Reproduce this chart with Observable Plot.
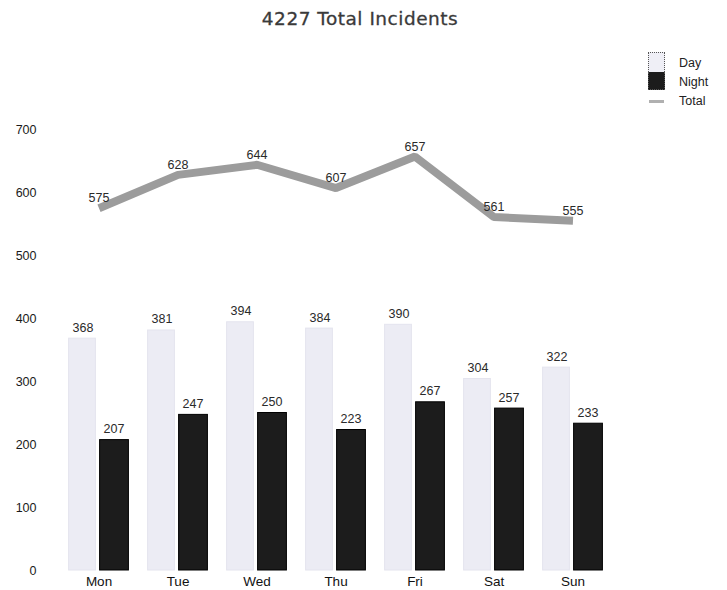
<!DOCTYPE html>
<html>
<head>
<meta charset="utf-8">
<script src="https://cdn.jsdelivr.net/npm/d3@7"></script>
<script src="https://cdn.jsdelivr.net/npm/@observablehq/plot@0.6"></script>
<style>
  body { margin: 0; background: #fff; }
  #wrap { position: relative; width: 727px; height: 590px; overflow: hidden; }
  #title { height: 40px; width: 727px; position: relative; }
  #title span { position: absolute; left: 200px; width: 320px; top: 8px; text-align: center;
    font: 18.5px "DejaVu Sans", sans-serif; letter-spacing: 0.5px; color: #3a3a3a; -webkit-text-stroke: 0.3px #3a3a3a; }
  #legend { position: absolute; left: 648px; top: 52px; font: 12.5px "Liberation Sans", Arial, sans-serif; color: #222; }
  .sw { position: absolute; left: 0; width: 17px; box-sizing: border-box; }
  .lt { position: absolute; left: 31px; white-space: nowrap; }
</style>
</head>
<body>
<div id="wrap">
  <div id="title"><span>4227 Total Incidents</span></div>
  <div id="chart"></div>
  <div id="legend">
    <div class="sw" style="top:0;height:20px;background:#efeff6;border:1px dotted #555;border-bottom:none;"></div>
    <div class="sw" style="top:20px;height:18px;background:#1c1c1c;border:1px dotted #555;border-top:none;"></div>
    <div class="sw" style="top:48px;height:3px;left:1px;width:15px;background:#b0b0b0;"></div>
    <div class="lt" style="top:4px;">Day</div>
    <div class="lt" style="top:23px;">Night</div>
    <div class="lt" style="top:42px;">Total</div>
  </div>
</div>
<script>
const days = ["Mon", "Tue", "Wed", "Thu", "Fri", "Sat", "Sun"];
const dayVals = [368, 381, 394, 384, 390, 304, 322];
const nightVals = [207, 247, 250, 223, 267, 257, 233];
const totalVals = [575, 628, 644, 607, 657, 561, 555];
const yTicks = [0, 100, 200, 300, 400, 500, 600, 700];

const rows = days.map((d, i) => ({day: d, dayV: dayVals[i], nightV: nightVals[i], total: totalVals[i]}));

const chart = Plot.plot({
  width: 727,
  height: 550,
  marginLeft: 58,
  marginRight: 114,
  marginTop: 89,
  marginBottom: 20,
  style: {fontFamily: "Liberation Sans, Arial, sans-serif", fontSize: "12px", color: "#222", background: "#fff"},
  x: {type: "band", domain: days, padding: 0, label: null},
  y: {domain: [0, 700], label: null},
  marks: [
    Plot.barY(rows, {x: "day", y: "dayV", fill: "#ececf4", stroke: "#e4e4ee", strokeWidth: 1, insetLeft: 9.6, insetRight: 42.6}),
    Plot.barY(rows, {x: "day", y: "nightV", fill: "#1c1c1c", stroke: "#000", strokeWidth: 1, insetLeft: 40.6, insetRight: 9.6}),
    Plot.text(rows, {x: "day", y: "dayV", text: d => String(d.dayV), dx: -16, dy: -11, fill: "#2a2a2a", fontSize: 12.5}),
    Plot.text(rows, {x: "day", y: "nightV", text: d => String(d.nightV), dx: 15, dy: -11, fill: "#2a2a2a", fontSize: 12.5}),
    Plot.lineY(rows, {x: "day", y: "total", stroke: "#9c9c9c", strokeWidth: 8, strokeLinejoin: "miter", strokeLinecap: "butt"}),
    Plot.text(rows, {x: "day", y: "total", text: d => String(d.total), dy: -10, fill: "#2a2a2a", fontSize: 12.5}),
    Plot.axisY({ticks: yTicks, tickSize: 0, tickPadding: 22, fill: "#1a1a1a", fontSize: 12.5}),
    Plot.axisX({tickSize: 0, tickPadding: 6, fill: "#111", fontSize: 13.5})
  ]
});
document.getElementById("chart").appendChild(chart);
</script>
</body>
</html>
